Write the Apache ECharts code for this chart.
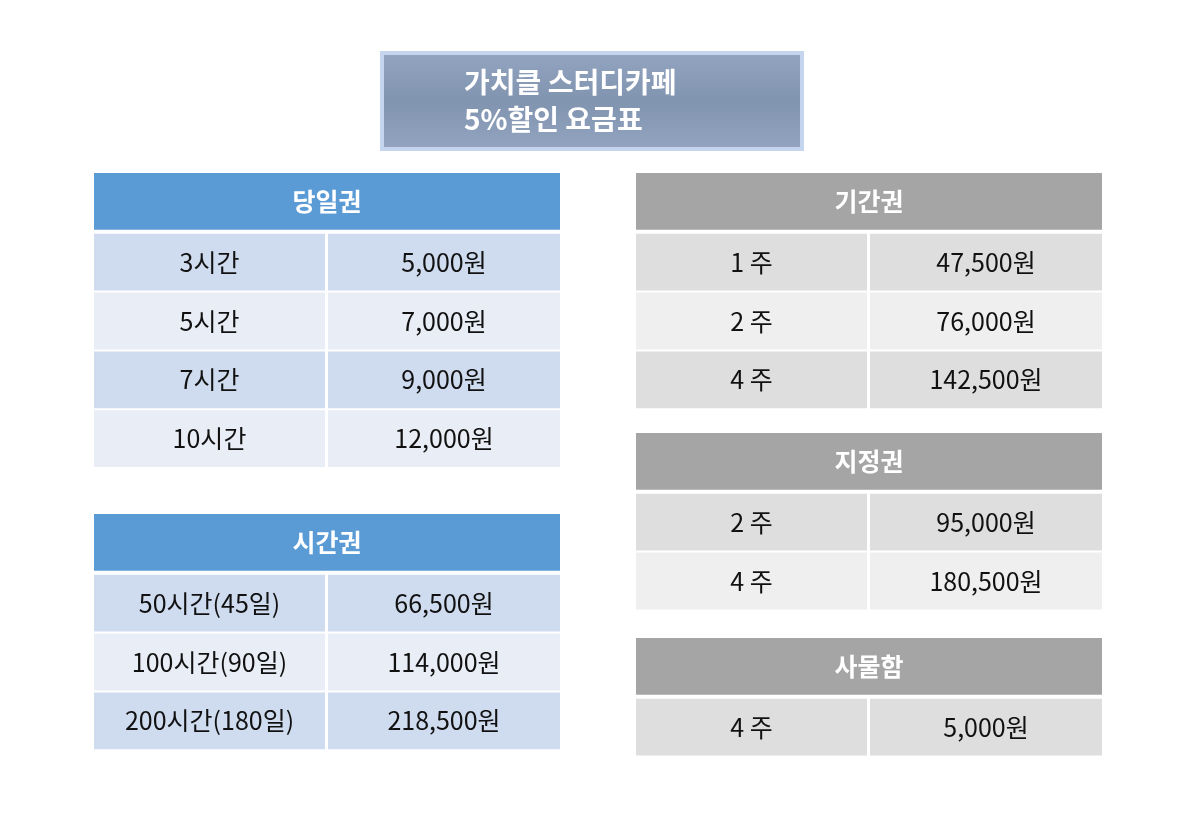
<!DOCTYPE html>
<html><head><meta charset="utf-8">
<script src="https://cdn.jsdelivr.net/npm/echarts@6/dist/echarts.min.js"></script>
<style>html,body{margin:0;padding:0;background:#fff}#c{width:1184px;height:825px}</style>
</head><body><div id="c"></div>
<script>
const titleLines = ['가치클 스터디카페', '5%할인 요금표'];
const dayHeader = '당일권';
const dayLabels = ['3시간', '5시간', '7시간', '10시간'];
const dayPrices = ['5,000원', '7,000원', '9,000원', '12,000원'];
const hourHeader = '시간권';
const hourLabels = ['50시간(45일)', '100시간(90일)', '200시간(180일)'];
const hourPrices = ['66,500원', '114,000원', '218,500원'];
const periodHeader = '기간권';
const periodLabels = ['1 주', '2 주', '4 주'];
const periodPrices = ['47,500원', '76,000원', '142,500원'];
const fixedHeader = '지정권';
const fixedLabels = ['2 주', '4 주'];
const fixedPrices = ['95,000원', '180,500원'];
const lockerHeader = '사물함';
const lockerLabels = ['4 주'];
const lockerPrices = ['5,000원'];

const FONT = '"Noto Sans CJK KR", sans-serif';
const blue = {head:'#5b9bd5', dark:'#cfdbee', light:'#e9edf6'};
const gray = {head:'#a5a5a5', dark:'#dedede', light:'#efefef'};

const tables = [
  {h:dayHeader, l:dayLabels, p:dayPrices, pal:blue, left:94, top:173},
  {h:hourHeader, l:hourLabels, p:hourPrices, pal:blue, left:94, top:514},
  {h:periodHeader, l:periodLabels, p:periodPrices, pal:gray, left:636, top:173},
  {h:fixedHeader, l:fixedLabels, p:fixedPrices, pal:gray, left:636, top:433},
  {h:lockerHeader, l:lockerLabels, p:lockerPrices, pal:gray, left:636, top:638}
];
const ROW = 58.8, W = 466;
const grid=[], xAxis=[], yAxis=[], series=[];
tables.forEach((t,i)=>{
  const n = t.l.length + 1;
  grid.push({left:t.left, top:t.top, width:W, height:ROW*n});
  xAxis.push({gridIndex:i, type:'category', data:['a','b'], show:false});
  yAxis.push({gridIndex:i, type:'category', data:Array.from({length:n},(_, k)=>String(k)), inverse:true, show:false});
  const data = [[0,0,t.h,1]];
  t.l.forEach((lab,k)=>{ data.push([0,k+1,lab,0]); data.push([1,k+1,t.p[k],0]); });
  const pal = t.pal;
  series.push({type:'custom', xAxisIndex:i, yAxisIndex:i, data,
    renderItem:(params, api)=>{
      const c = api.coord([api.value(0), api.value(1)]);
      const s = api.size([1,1]);
      const head = api.value(3)===1;
      const row = api.value(1);
      let x = c[0]-s[0]/2, w = s[0];
      if (head) w = s[0]*2;
      else if (api.value(0)===0) w = s[0]-2; else {x += 1; w = s[0]-1;}
      const y = c[1]-s[1]/2 + (head?0:2), h = s[1]-(head?2:2);
      const fill = head ? pal.head : (row%2===1 ? pal.dark : pal.light);
      return {type:'group', children:[
        {type:'rect', shape:{x, y, width:w, height:h}, style:{fill}},
        {type:'text', style:{text:api.value(2), x:x+w/2, y:y+h/2, align:'center', verticalAlign:'middle',
          fill: head?'#fff':'#111', font:(head?'bold ':'')+'25px '+FONT}}
      ]};
    }});
});

const chart = echarts.init(document.getElementById('c'));
chart.setOption({
  animation:false,
  title:{text:titleLines.join('\n'), left:'center', top:53, textAlign:'left',
    backgroundColor:new echarts.graphic.LinearGradient(0,0,0,1,[{offset:0,color:'#93a5c0'},{offset:0.5,color:'#8194af'},{offset:1,color:'#93a5c0'}]),
    borderColor:'#c6d5ee', borderWidth:4, padding:[11,82,11,82],
    textStyle:{color:'#fff', fontFamily:FONT, fontWeight:'bold', fontSize:28, lineHeight:37, align:'center', width:256}},
  grid, xAxis, yAxis, series
});
</script></body></html>
